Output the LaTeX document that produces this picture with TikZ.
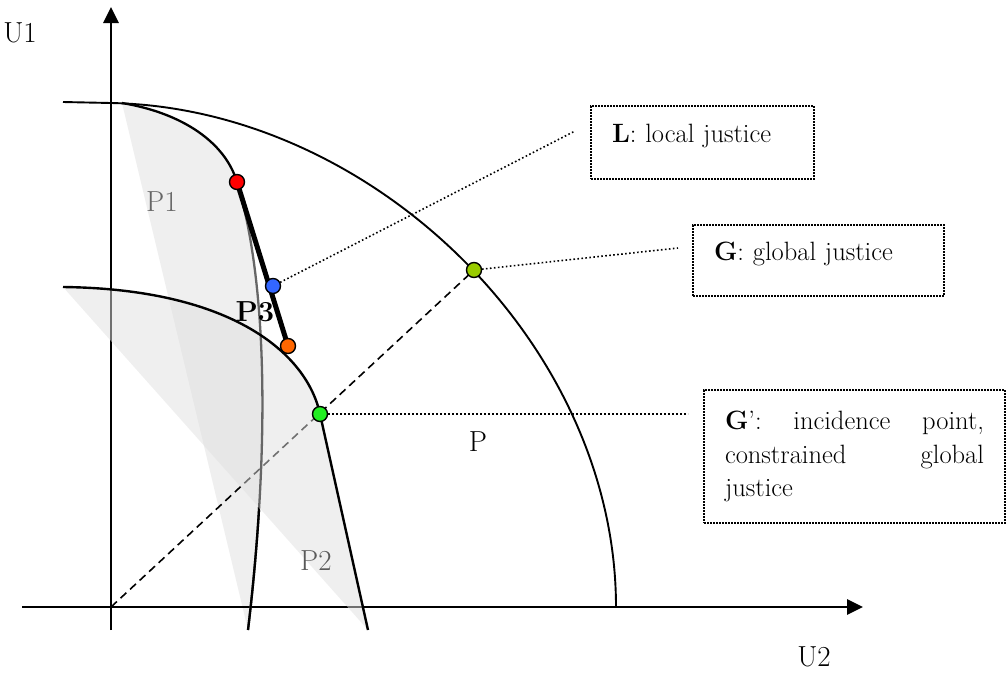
\documentclass[tikz,border=0pt]{standalone}
\usetikzlibrary{arrows.meta}
\definecolor{regiongray}{HTML}{EFEFEF}
\definecolor{ptwofill}{gray}{0.88}
\definecolor{dotred}{HTML}{FF0000}
\definecolor{dotblue}{HTML}{3366FF}
\definecolor{dotorange}{HTML}{FF6600}
\definecolor{dotgreen}{HTML}{22EE22}
\definecolor{dotolive}{HTML}{99CC00}
\newcommand{\boxfnt}{\fontsize{26.5}{33.5}\selectfont}
\newcommand{\lblfnt}{\fontsize{29}{34}\selectfont}
\begin{document}
\begin{tikzpicture}[x=1pt,y=-1pt,
  axisline/.style={line width=2.8pt,-{Triangle[length=16pt,width=15pt]}},
  frontier/.style={line width=2.3pt},
  ptdot/.style={circle,draw=black,line width=1.4pt,minimum size=15pt,inner sep=0pt},
  leader/.style={line width=1.6pt,dash pattern=on 1.6pt off 2.4pt},
  infobox/.style={draw,rectangle,line width=1.6pt,dash pattern=on 1.6pt off 1.4pt,
     inner xsep=21pt,inner ysep=0pt,font=\boxfnt},
  lbl/.style={font=\lblfnt,inner sep=0pt}]
\useasboundingbox (0,0) rectangle (1006,675);

% named positions
\coordinate (O) at (111,607);
\coordinate (ytop) at (111,7);
\coordinate (ybot) at (111,630);
\coordinate (xleft) at (22,607);
\coordinate (xright) at (863,607);
\coordinate (r) at (237,182);
\coordinate (b) at (273,286);
\coordinate (o) at (288,346);
\coordinate (gp) at (320,414);
\coordinate (g) at (474,270);
\coordinate (Lend) at (575,131);
\coordinate (Gend) at (678,248);
\coordinate (GPend) at (688,414);

% P1 region
\fill[regiongray] (122,103) -- (248,630) .. controls (266,480) and (272,297) .. (237,182)
   .. controls (225,142) and (182,113) .. (122,103) -- cycle;

% axes
\draw[axisline] (ybot) -- (ytop);
\draw[axisline] (xleft) -- (xright);

% dashed ray
\draw[line width=1.6pt,dash pattern=on 8pt off 5pt] (O) -- (g);

% P2 region (translucent, over the axis and the ray)
\fill[ptwofill,fill opacity=0.5] (63,287) -- (368,630) -- (320,414)
   .. controls (307,354) and (233,289) .. (63,287) -- cycle;

% P1 frontier
\draw[frontier] (122,103) .. controls (182,113) and (225,142) .. (237,182);
\draw[frontier,black!60] (237,182) .. controls (272,297) and (266,480) .. (248,630);
\begin{scope}
  \clip (63,287) -- (420,690) -- (0,690) -- (0,287) -- cycle;
  \draw[frontier] (237,182) .. controls (272,297) and (266,480) .. (248,630);
\end{scope}

% P2 frontier
\draw[frontier,line width=2.4pt] (63,287) .. controls (233,289) and (307,354) .. (gp) -- (368,630);

% P frontier
\draw[line width=1.9pt] (63,102) -- (111,103) .. controls (373,108) and (616,345) .. (616,607);

% local justice segment
\draw[line width=5pt] (r) -- (o);

% leaders
\draw[leader] (b) -- (Lend);
\draw[leader] (g) -- (Gend);
\draw[leader] (gp) -- (GPend);

% points
\node[ptdot,fill=dotred] (R) at (r) {};
\node[ptdot,fill=dotblue] (B) at (b) {};
\node[ptdot,fill=dotorange] (Or) at (o) {};
\node[ptdot,fill=dotgreen] (GP) at (gp) {};
\node[ptdot,fill=dotolive] (G) at (g) {};

% boxes
\node[infobox,minimum width=223pt,minimum height=73pt,text width=181pt,align=left,text depth=18pt]
  (Lbox) at (702.5,142.5) {\textbf{L}: local justice};
\node[infobox,minimum width=251pt,minimum height=71pt,text width=209pt,align=left,text depth=19pt]
  (Gbox) at (818.5,260.5) {\textbf{G}: global justice};
\node[infobox,minimum width=301pt,minimum height=133pt,text width=259pt,align=justify]
  (GPbox) at (854.5,456.5) {\textbf{G}’: incidence point,\linebreak constrained global\linebreak justice};

% labels
\node[lbl] (U1) at (20,33) {U1};
\node[lbl] (U2) at (814,657) {U2};
\node[lbl,text=black!60] (P1l) at (162,202) {P1};
\node[lbl,text=black!65] (P2l) at (316,561) {P2};
\node[lbl,font=\lblfnt\bfseries] (P3l) at (255,312) {P3};
\node[lbl] (Pl) at (478,442) {P};
\end{tikzpicture}
\end{document}
